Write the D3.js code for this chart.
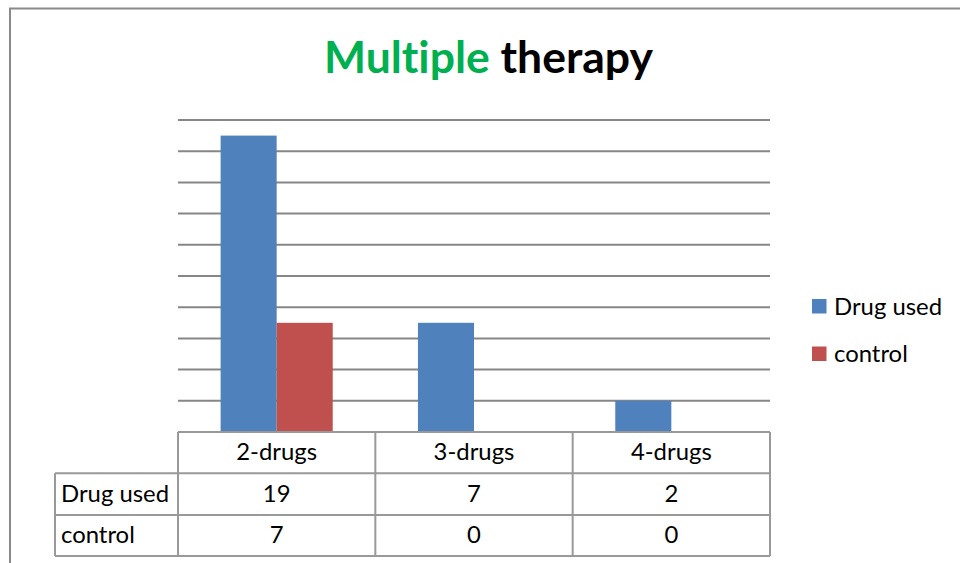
<!DOCTYPE html>
<html>
<head>
<meta charset="utf-8">
<script src="https://cdn.jsdelivr.net/npm/d3@7"></script>
<style>
  html, body { margin: 0; padding: 0; background: #fff; }
  svg { display: block; }
  text { font-variant-ligatures: none; font-feature-settings: "liga" 0, "clig" 0; }
</style>
</head>
<body>
<svg id="chart" width="960" height="563"></svg>
<script>
// ---- data ----
const categories = ["2-drugs", "3-drugs", "4-drugs"];
const seriesNames = ["Drug used", "control"];
const drugUsed = [19, 7, 2];
const control = [7, 0, 0];
const yTicks = [0, 2, 4, 6, 8, 10, 12, 14, 16, 18, 20];
const titleParts = ["Multiple", "therapy"];

const seriesValues = [drugUsed, control];
const colors = ["#4F81BD", "#C0504D"];
const FONT = "Lato, 'Open Sans', sans-serif";

const svg = d3.select("#chart");

// measure helper
function fitSize(text, weight, target) {
  const t = svg.append("text").attr("font-family", FONT).attr("font-weight", weight)
    .attr("font-size", 100).text(text);
  const w = t.node().getComputedTextLength();
  t.remove();
  return 100 * target / w;
}
const bodySize = fitSize("Drug used", 400, 108);
const titleSize = fitSize(titleParts.join(" "), 700, 329);

// outer frame (chart area border)
svg.append("path")
  .attr("d", "M10,563 L10,8.5 L960,8.5")
  .attr("fill", "none").attr("stroke", "#8a8a8a").attr("stroke-width", 2);

// scales
const plotLeft = 178, plotRight = 770, plotTop = 120, plotBottom = 432;
const x = d3.scaleBand().domain(categories).range([plotLeft, plotRight]).padding(0);
const xs = d3.scaleBand().domain(seriesNames).range([0, x.bandwidth()]).paddingInner(0).paddingOuter(0.76);
const y = d3.scaleLinear().domain([0, 20]).range([plotBottom, plotTop]);

// gridlines
svg.append("g").selectAll("line").data(yTicks.filter(d => d > 0)).join("line")
  .attr("x1", plotLeft).attr("x2", plotRight)
  .attr("y1", d => y(d)).attr("y2", d => y(d))
  .attr("stroke", "#868686").attr("stroke-width", 2);

// bars
const groups = svg.append("g").selectAll("g").data(categories).join("g")
  .attr("transform", c => `translate(${x(c)},0)`);
groups.selectAll("rect")
  .data((c, i) => seriesNames.map((s, j) => ({ s, v: seriesValues[j][i], j })))
  .join("rect")
  .attr("x", d => xs(d.s))
  .attr("width", xs.bandwidth())
  .attr("y", d => y(d.v))
  .attr("height", d => y(0) - y(d.v))
  .attr("fill", d => colors[d.j]);

// title
const title = svg.append("text")
  .attr("x", 488.5).attr("y", 73)
  .attr("text-anchor", "middle")
  .attr("font-family", FONT).attr("font-weight", 700).attr("font-size", titleSize);
title.append("tspan").attr("fill", "#00B050").text(titleParts[0]);
title.append("tspan").attr("fill", "#000").text(" " + titleParts[1]);

// data table
const rowY = [432, 473.3, 515, 556];
const labelLeft = 55;
const lineColor = "#999999";
const tbl = svg.append("g");
// horizontal lines
tbl.append("line").attr("x1", plotLeft).attr("x2", plotRight).attr("y1", rowY[0]).attr("y2", rowY[0])
  .attr("stroke", lineColor).attr("stroke-width", 2);
[rowY[1], rowY[2], rowY[3]].forEach(yy => {
  tbl.append("line").attr("x1", labelLeft).attr("x2", plotRight).attr("y1", yy).attr("y2", yy)
    .attr("stroke", lineColor).attr("stroke-width", 2);
});
// vertical lines
tbl.append("line").attr("x1", labelLeft).attr("x2", labelLeft).attr("y1", rowY[1]).attr("y2", rowY[3])
  .attr("stroke", lineColor).attr("stroke-width", 2);
const colEdges = categories.map(c => x(c)).concat([plotRight]);
colEdges.forEach(xx => {
  tbl.append("line").attr("x1", xx).attr("x2", xx).attr("y1", rowY[0]).attr("y2", rowY[3])
    .attr("stroke", lineColor).attr("stroke-width", 2);
});
// header labels
tbl.selectAll("text.cat").data(categories).join("text").attr("class", "cat")
  .attr("x", c => x(c) + x.bandwidth() / 2).attr("y", 460)
  .attr("text-anchor", "middle").attr("font-family", FONT).attr("font-size", bodySize)
  .attr("fill", "#000").text(c => c);
// rows
const rowBaselines = [501.5, 543];
seriesNames.forEach((s, j) => {
  tbl.append("text").attr("x", 61).attr("y", rowBaselines[j])
    .attr("font-family", FONT).attr("font-size", bodySize).attr("fill", "#000").text(s);
  tbl.selectAll("text.v" + j).data(categories).join("text").attr("class", "v" + j)
    .attr("x", c => x(c) + x.bandwidth() / 2).attr("y", rowBaselines[j])
    .attr("text-anchor", "middle").attr("font-family", FONT).attr("font-size", bodySize)
    .attr("fill", "#000").text((c, i) => seriesValues[j][i]);
});

// legend
const legendY = [299, 346.5];
const legend = svg.append("g");
seriesNames.forEach((s, j) => {
  legend.append("rect").attr("x", 812).attr("y", legendY[j]).attr("width", 14.5).attr("height", 14.5)
    .attr("fill", colors[j]);
  legend.append("text").attr("x", 834).attr("y", legendY[j] + 15.5)
    .attr("font-family", FONT).attr("font-size", bodySize).attr("fill", "#000").text(s);
});
</script>
</body>
</html>
